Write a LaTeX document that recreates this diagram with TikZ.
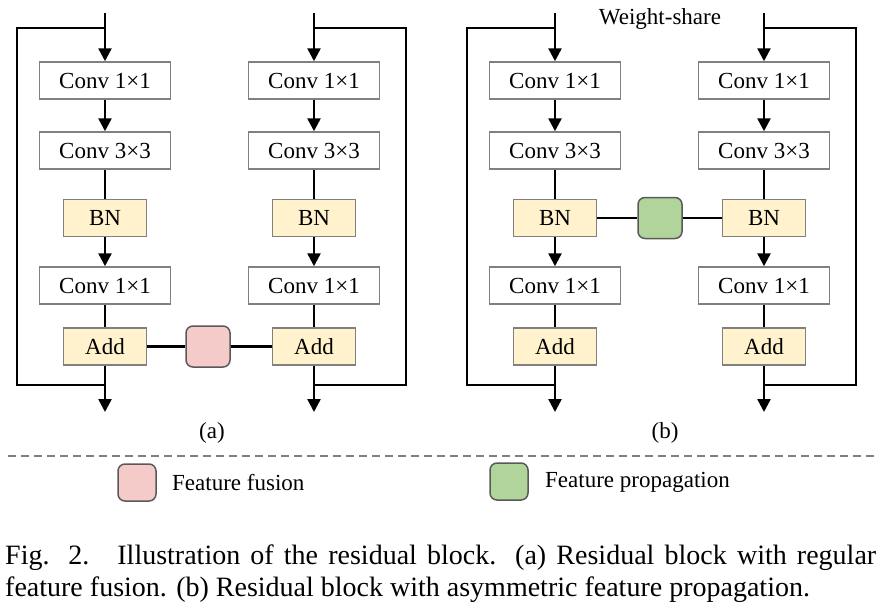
\documentclass[tikz,border=0pt]{standalone}
\usepackage{fontspec}
\setmainfont{Liberation Serif}
\usetikzlibrary{arrows.meta}
\definecolor{normyellow}{RGB}{255,242,204}
\definecolor{fusepink}{RGB}{245,203,201}
\definecolor{propgreen}{RGB}{176,212,153}
\definecolor{boxgray}{RGB}{128,128,128}

\tikzset{
	layer/.style={draw=boxgray, line width=1.5pt, fill=white, minimum width=131pt, minimum height=37pt, inner sep=0pt, font=\fontsize{23}{26}\selectfont},
	norm/.style={layer, fill=normyellow, minimum width=83pt},
	fuse/.style={draw=black!65, line width=1.5pt, rounded corners=7pt, minimum width=44pt, minimum height=41pt, inner sep=0pt},
	flow/.style={line width=2.5pt, -{Triangle[length=13pt,width=13pt]}},
	link/.style={line width=2.5pt},
	lbl/.style={font=\fontsize{23}{26}\selectfont, inner sep=0pt},
}

\begin{document}
\begin{tikzpicture}[x=1pt, y=-1pt]
	\useasboundingbox (0,0) rectangle (882,613);
	% the four branches
	\foreach \n/\x/\w in {a1/105/17, a2/314/406, b1/555/467, b2/764/856}{
		\coordinate (in\n) at (\x,13);
		\node[layer] (ca\n) at (\x,80.5) {Conv 1×1};
		\node[layer] (cb\n) at (\x,150.5) {Conv 3×3};
		\node[norm] (bn\n) at (\x,218) {BN};
		\node[layer] (cc\n) at (\x,285.5) {Conv 1×1};
		\node[norm] (add\n) at (\x,346.5) {Add};
		\coordinate (out\n) at (\x,412);
		\coordinate (sa\n) at (\w,28);
		\coordinate (sb\n) at (\w,385);
		\draw[flow] (in\n) -- (ca\n);
		\draw[flow] (ca\n) -- (cb\n);
		\draw[link] (cb\n) -- (bn\n);
		\draw[flow] (bn\n) -- (cc\n);
		\draw[link] (cc\n) -- (add\n);
		\draw[flow] (add\n) -- (out\n);
		\draw[link] (in\n |- sa\n) -- (sa\n) -- (sb\n) -- (out\n |- sb\n);
	}
	% fusion and propagation
	\node[fuse, fill=fusepink] (fuse) at (208,346.5) {};
	\draw[link] (adda1) -- (fuse) -- (adda2);
	\node[fuse, fill=propgreen] (prop) at (660,218) {};
	\draw[line width=1.8pt] (bnb1) -- (prop) -- (bnb2);
	\node[lbl] (share) at (660,19) {Weight-share};
	\node[lbl] (capa) at (212,433) {(a)};
	\node[lbl] (capb) at (665,433) {(b)};
	% legend
	\draw[boxgray, line width=1.5pt, dash pattern=on 8pt off 5pt] (8,456) -- (876,456);
	\node[fuse, fill=fusepink, minimum width=38pt, minimum height=37pt] (keyfuse) at (137,482.5) {};
	\node[lbl, anchor=west] (txtfuse) at (172,483) {Feature fusion};
	\node[fuse, fill=propgreen, minimum width=38pt, minimum height=37pt] (keyprop) at (509,481.5) {};
	\node[lbl, anchor=west] (txtprop) at (545,482) {Feature propagation};
	% caption
	\node[anchor=base west, text width=871pt, align=justify, inner sep=0pt, font=\fontsize{28}{32}\selectfont] (caption) at (5,564) {Fig. 2.\quad Illustration of the residual block. (a) Residual block with regular\linebreak feature fusion. (b) Residual block with asymmetric feature propagation.};
\end{tikzpicture}
\end{document}
